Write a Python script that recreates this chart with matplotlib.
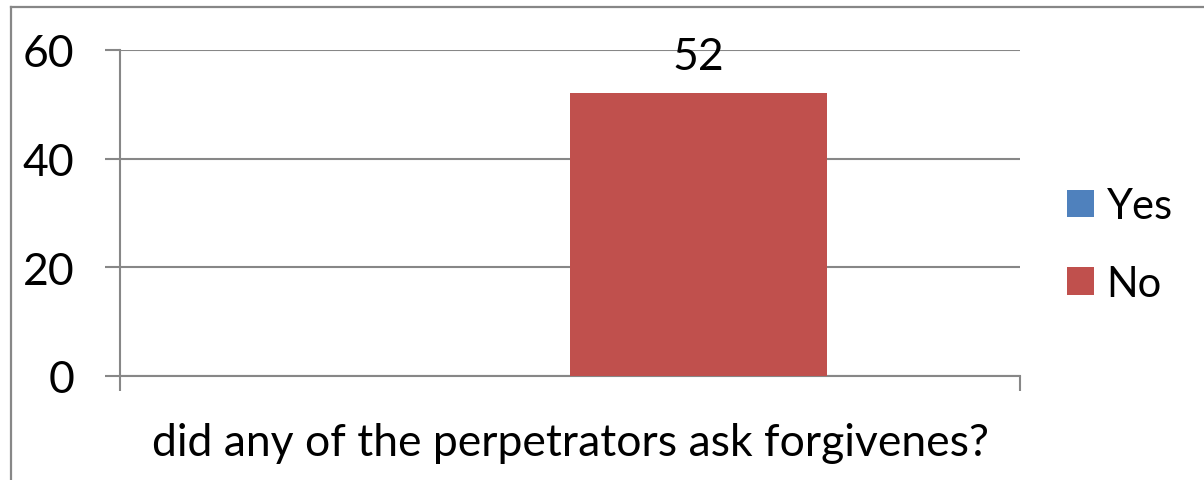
import matplotlib
matplotlib.use("Agg")
import matplotlib.pyplot as plt
from matplotlib.lines import Line2D

categories = ["did any of the perpetrators ask forgivenes?"]
series = ["Yes", "No"]
values = {"Yes": [0], "No": [52]}
colors = {"Yes": "#4F81BD", "No": "#C0504D"}

plt.rcParams['font.family'] = ['Lato', 'DejaVu Sans']
fs = 32
gray = "#878787"

fig = plt.figure(figsize=(12.04, 4.81), dpi=100)
ax = fig.add_axes([120/1204, 1-377/481, 900/1204, 326/481])

# outer chart frame (only left and top edge are inside the image)
fig.add_artist(Line2D([11/1204, 11/1204], [0, 1-8/481], color=gray, lw=1.6))
fig.add_artist(Line2D([11/1204, 1], [1-8/481, 1-8/481], color=gray, lw=1.6))

w = 0.2857
for i, s in enumerate(series):
    xs = [k + (i - 0.5) * w for k in range(len(categories))]
    bars = ax.bar(xs, values[s], width=w, color=colors[s], label=s, zorder=3)
    if s == "No":
        for b, v in zip(bars, values[s]):
            ax.annotate(f"{v}", (b.get_x() + b.get_width()/2, v),
                        xytext=(0, 12), textcoords="offset points",
                        ha="center", va="bottom", fontsize=fs)

ax.set_xlim(-0.5, len(categories) - 0.5)
ax.set_ylim(0, 60)
ax.set_yticks([0, 20, 40, 60])
ax.yaxis.grid(True, color=gray, lw=1.5, zorder=0)
ax.set_xticks(range(len(categories)))
ax.set_xticklabels(categories, fontsize=fs)
ax.set_xticks([-0.5, 0.5], minor=True)
ax.tick_params(axis="x", which="major", length=0, pad=33)
ax.tick_params(axis="x", which="minor", length=11, width=1.5, color=gray, direction="out")
ax.tick_params(axis="y", length=11, width=1.5, color=gray, direction="out", pad=22, labelsize=fs)

for sp in ["top", "right"]:
    ax.spines[sp].set_visible(False)
for sp in ["left", "bottom"]:
    ax.spines[sp].set_color(gray)
    ax.spines[sp].set_linewidth(1.5)

fig.legend(*ax.get_legend_handles_labels(), loc="center left",
           bbox_to_anchor=(1067/1204, 1-246/481), bbox_transform=fig.transFigure,
           frameon=False, fontsize=30, borderpad=0, borderaxespad=0,
           handlelength=0.65, handleheight=0.65, handletextpad=0.3, labelspacing=0.95)

fig.savefig("out.png", dpi=100)
